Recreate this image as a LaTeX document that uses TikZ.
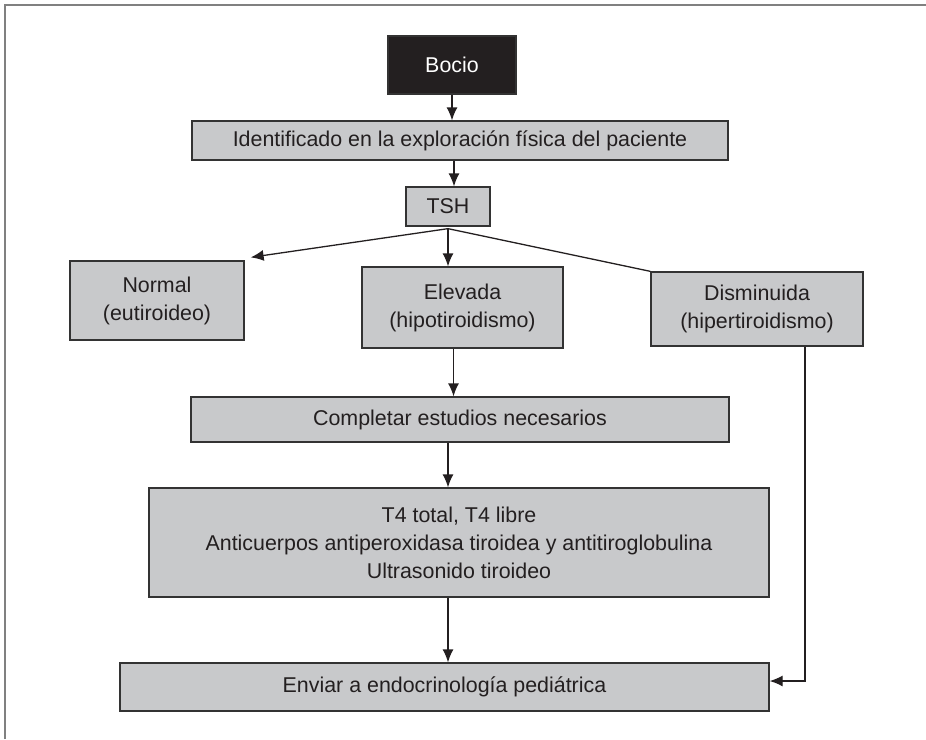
\documentclass[tikz,border=0pt]{standalone}
\usepackage{fontspec}
\setmainfont{Liberation Sans}
\usepackage{xcolor}
\usetikzlibrary{arrows.meta}

\definecolor{cajagris}{HTML}{C8C9CB}
\definecolor{borde}{HTML}{333333}
\definecolor{tinta}{HTML}{231F20}

\tikzset{
    caja/.style={draw=borde, line width=1.3pt, fill=cajagris, text=tinta, align=center,
        inner sep=0pt, font=\fontsize{21.4}{28}\selectfont},
    flecha/.style={draw=tinta, line width=1.3pt, -{Latex[length=13pt,width=11pt]}},
    linea/.style={draw=tinta, line width=1.3pt}
}

\begin{document}
\begin{tikzpicture}[x=1pt, y=-1pt]
        \useasboundingbox (0,0) rectangle (926,739);
        \draw[gray, line width=2pt] (5,739) -- (5,5) -- (926,5);

        \node[caja, fill=tinta, text=white, minimum width=128, minimum height=58] (bocio) at (452,65) {Bocio};
        \node[caja, minimum width=536, minimum height=39] (ident) at (460,140.5)
            {Identificado en la exploración física del paciente};
        \node[caja, minimum width=84, minimum height=39] (tsh) at (448,206.5) {TSH};

        \node[caja, minimum width=174, minimum height=79] (normal) at (157,300.5) {Normal\\(eutiroideo)};
        \node[caja, minimum width=201, minimum height=81] (elevada) at (462.5,307.5) {Elevada\\(hipotiroidismo)};
        \node[caja, minimum width=212, minimum height=74] (dismin) at (757,309) {Disminuida\\(hipertiroidismo)};

        \node[caja, minimum width=538, minimum height=45] (compl) at (460,419.5) {Completar estudios necesarios};
        \node[caja, minimum width=620, minimum height=109] (t4) at (459,542.5)
            {T4 total, T4 libre\\Anticuerpos antiperoxidasa tiroidea y antitiroglobulina\\Ultrasonido tiroideo};
        \node[caja, minimum width=649, minimum height=48] (enviar) at (444.5,687) {Enviar a endocrinología pediátrica};

        % flechas verticales
        \draw[flecha] (bocio.south) -- (bocio.south |- ident.north);
        \draw[flecha] ([xshift=-6pt]ident.south) -- ([xshift=-6pt]ident.south |- tsh.north);
        \draw[flecha] ([yshift=-2pt]tsh.south) -- (tsh.south |- elevada.north);
        \draw[flecha] ([xshift=-9pt]elevada.south) -- ([xshift=-9pt]elevada.south |- compl.north);
        \draw[flecha] ([xshift=-12pt]compl.south) -- ([xshift=-12pt]compl.south |- t4.north);
        \draw[flecha] ([xshift=-11pt]t4.south) -- ([xshift=-11pt]t4.south |- enviar.north);

        % ramas de TSH
        \draw[flecha] ([yshift=-2pt]tsh.south) -- ([xshift=6pt,yshift=3pt]normal.north east);
        \draw[linea] ([yshift=-2pt]tsh.south) -- (dismin.north west);
        \draw[flecha] ([xshift=48pt]dismin.south) |- ([yshift=6pt]enviar.east);
    \end{tikzpicture}
\end{document}
